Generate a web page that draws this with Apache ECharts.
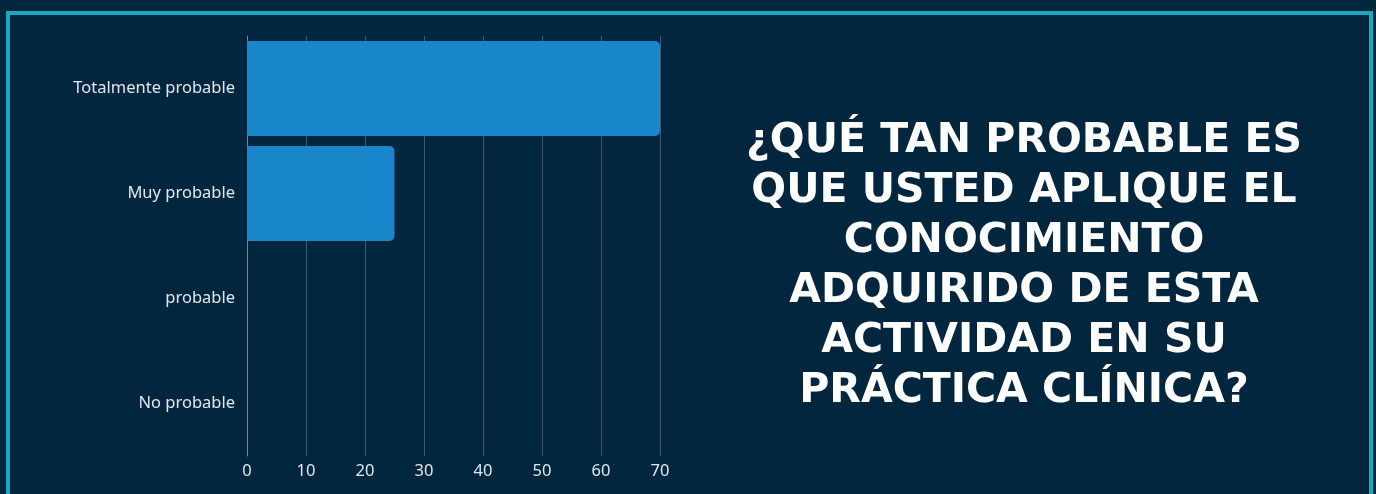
<!DOCTYPE html>
<html>
<head>
<meta charset="utf-8">
<script src="https://cdn.jsdelivr.net/npm/echarts@6/dist/echarts.min.js"></script>
<style>
  html, body { margin: 0; padding: 0; background: #03263f; }
  #main { width: 1376px; height: 494px; }
</style>
</head>
<body>
<div id="main"></div>
<script>
// categories from top to bottom
var categories = ['Totalmente probable', 'Muy probable', 'probable', 'No probable'];
var values = [70, 25, 0, 0];
var xTicks = [0, 10, 20, 30, 40, 50, 60, 70];
var titleLines = [
  '¿QUÉ TAN PROBABLE ES',
  'QUE USTED APLIQUE EL',
  'CONOCIMIENTO',
  'ADQUIRIDO DE ESTA',
  'ACTIVIDAD EN SU',
  'PRÁCTICA CLÍNICA?'
];

var myChart = echarts.init(document.getElementById('main'));

var option = {
  backgroundColor: '#03263f',
  animation: false,
  title: {
    text: titleLines.join('\n'),
    left: 1019,
    top: 111,
    textAlign: 'center',
    textStyle: {
      color: '#ffffff',
      fontFamily: 'DejaVu Sans',
      fontWeight: 'bold',
      fontSize: 41,
      lineHeight: 50
    }
  },
  graphic: [{
    type: 'rect',
    shape: { x: 8, y: 13, width: 1363, height: 520 },
    style: { fill: 'none', stroke: '#17a9c0', lineWidth: 4 },
    silent: true
  }],
  grid: { left: 247, right: 716, top: 36, bottom: 38 },
  xAxis: {
    type: 'value',
    min: xTicks[0],
    max: xTicks[xTicks.length - 1],
    interval: 10,
    axisLine: { show: false },
    axisTick: { show: false },
    axisLabel: { color: '#dfe6ec', fontSize: 16.5, fontFamily: 'Noto Sans', margin: 7 },
    splitLine: { show: true, lineStyle: { color: '#3d5a70', width: 1 } }
  },
  yAxis: {
    type: 'category',
    data: categories,
    inverse: true,
    axisLine: { show: true, lineStyle: { color: '#6d8aa0', width: 1 } },
    axisTick: { show: false },
    axisLabel: { color: '#dfe6ec', fontSize: 16.5, fontFamily: 'Noto Sans', margin: 12 }
  },
  series: [{
    type: 'bar',
    data: values,
    barWidth: 95,
    itemStyle: { color: '#1886c8', borderRadius: [0, 5, 5, 0] }
  }]
};

myChart.setOption(option);
</script>
</body>
</html>
